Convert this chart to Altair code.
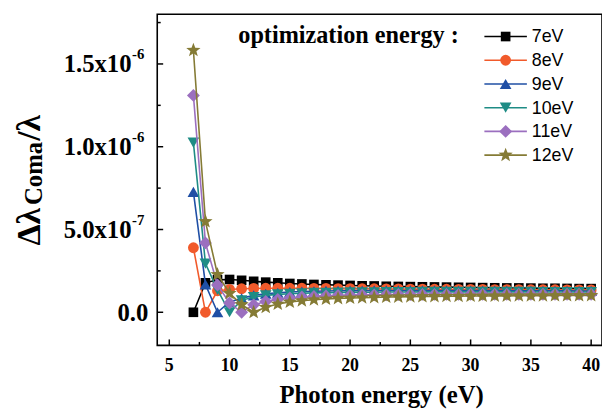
import math
import altair as alt
import pandas as pd

# ---------------- data (values in units of 1e-7) ----------------
energy = list(range(7, 41))
series_names = ["7eV", "8eV", "9eV", "10eV", "11eV", "12eV"]
s7 = [0, 1.78, 1.96, 1.98, 1.93, 1.87, 1.82, 1.78, 1.74, 1.71, 1.68, 1.66, 1.64, 1.62, 1.60, 1.59, 1.57,
      1.56, 1.55, 1.54, 1.53, 1.52, 1.51, 1.50, 1.49, 1.48, 1.47, 1.47, 1.46, 1.45, 1.45, 1.44, 1.43, 1.43]
s8 = [3.90, 0, 1.30, 1.38, 1.42, 1.44, 1.45, 1.45, 1.45, 1.45, 1.44, 1.44, 1.43, 1.43, 1.42, 1.42, 1.41,
      1.41, 1.40, 1.40, 1.39, 1.39, 1.38, 1.38, 1.38, 1.37, 1.37, 1.37, 1.36, 1.36, 1.36, 1.35, 1.35, 1.35]
s9 = [7.27, 1.68, 0, 0.62, 0.85, 1.02, 1.12, 1.18, 1.22, 1.25, 1.27, 1.29, 1.30, 1.31, 1.31, 1.32, 1.32,
      1.32, 1.32, 1.32, 1.32, 1.32, 1.31, 1.31, 1.31, 1.31, 1.31, 1.30, 1.30, 1.30, 1.30, 1.30, 1.29, 1.29]
s10 = [10.25, 2.94, 1.35, 0, 0.72, 0.92, 1.02, 1.08, 1.12, 1.15, 1.17, 1.18, 1.19, 1.20, 1.21, 1.21, 1.22,
       1.22, 1.22, 1.23, 1.23, 1.23, 1.23, 1.23, 1.23, 1.23, 1.23, 1.23, 1.23, 1.22, 1.22, 1.22, 1.22, 1.22]
s11 = [13.10, 4.19, 1.65, 0.56, 0, 0.45, 0.65, 0.78, 0.86, 0.92, 0.96, 0.99, 1.01, 1.03, 1.04, 1.05, 1.06,
       1.07, 1.07, 1.08, 1.08, 1.08, 1.08, 1.09, 1.09, 1.09, 1.09, 1.09, 1.09, 1.09, 1.09, 1.09, 1.09, 1.09]
s12 = [15.83, 5.48, 2.28, 1.15, 0.46, 0, 0.30, 0.50, 0.62, 0.70, 0.76, 0.80, 0.84, 0.86, 0.88, 0.90, 0.92,
       0.93, 0.94, 0.95, 0.96, 0.97, 0.97, 0.98, 0.98, 0.99, 0.99, 1.00, 1.00, 1.00, 1.01, 1.01, 1.01, 1.02]
series_values = [s7, s8, s9, s10, s11, s12]
colors = ["#000000", "#F15A2B", "#1F4FA5", "#1E8C85", "#9B6FBF", "#857B35"]

x_major = [5, 10, 15, 20, 25, 30, 35, 40]
x_minor = [7.5, 12.5, 17.5, 22.5, 27.5, 32.5, 37.5]
y_major = [0, 5e-7, 1e-6, 1.5e-6]
y_minor = [2.5e-7, 7.5e-7, 1.25e-6, 1.75e-6]
y_label_base = ["0.0", "5.0x10", "1.0x10", "1.5x10"]
y_label_exp = ["", "-7", "-6", "-6"]
x_title = "Photon energy (eV)"
legend_title = "optimization energy :"

# ---------------- styles ----------------
W, H = 450, 335
SERIF = "Liberation Serif"
SANS = "Liberation Sans"


def star_path(n=5, inner=0.42):
    pts = []
    for i in range(2 * n):
        a = math.radians(-90 + 180.0 / n * i)
        r = 1.0 if i % 2 == 0 else inner
        pts.append(f"{r * math.cos(a):.3f},{r * math.sin(a):.3f}")
    return "M" + "L".join(pts) + "Z"


diamond = "M0,-1L1,0L0,1L-1,0Z"
shapes = ["square", "circle", "triangle-up", "triangle-down", diamond, star_path()]
sizes = [95, 120, 140, 140, 170, 230]

xscale = alt.Scale(domain=[4, 40.9], nice=False, zero=False)
yscale = alt.Scale(domain=[-2e-7, 1.8e-6], nice=False, zero=False)

layers = []

# series
for name, vals, col, shp, sz in zip(series_names, series_values, colors, shapes, sizes):
    df = pd.DataFrame({"E": energy, "v": [v * 1e-7 for v in vals]})
    enc = dict(x=alt.X("E:Q", scale=xscale, axis=None), y=alt.Y("v:Q", scale=yscale, axis=None))
    layers.append(alt.Chart(df).mark_line(color=col, strokeWidth=1.6).encode(**enc))
    layers.append(alt.Chart(df).mark_point(shape=shp, filled=True, size=sz, color=col,
                                           opacity=1, strokeWidth=0).encode(**enc))

# inside ticks
for vals, length in ((x_major, 6), (x_minor, 3.5)):
    layers.append(alt.Chart(pd.DataFrame({"t": vals})).mark_rule(color="black", strokeWidth=1.5).encode(
        x=alt.X("t:Q", scale=xscale, axis=None), y=alt.value(H), y2=alt.value(H - length)))
for vals, length in ((y_major, 6), (y_minor, 3.5)):
    layers.append(alt.Chart(pd.DataFrame({"t": vals})).mark_rule(color="black", strokeWidth=1.5).encode(
        y=alt.Y("t:Q", scale=yscale, axis=None), x=alt.value(0), x2=alt.value(length)))

# x tick labels
layers.append(alt.Chart(pd.DataFrame({"t": x_major, "lab": [str(v) for v in x_major]})).mark_text(
    font=SERIF, fontWeight="bold", fontSize=18, align="center", baseline="alphabetic", color="black").encode(
    x=alt.X("t:Q", scale=xscale, axis=None), y=alt.value(360.5), text="lab:N"))

# y tick labels
ydf = pd.DataFrame({"t": y_major, "base": y_label_base, "exp": y_label_exp})
zero_df = ydf[ydf["exp"] == ""]
exp_df = ydf[ydf["exp"] != ""]
layers.append(alt.Chart(zero_df).mark_text(font=SERIF, fontWeight="bold", fontSize=25, align="right",
                                           baseline="alphabetic", dy=8.5, color="black").encode(
    y=alt.Y("t:Q", scale=yscale, axis=None), x=alt.value(-9), text="base:N"))
layers.append(alt.Chart(exp_df).mark_text(font=SERIF, fontWeight="bold", fontSize=25, align="right",
                                          baseline="alphabetic", dy=8.5, color="black").encode(
    y=alt.Y("t:Q", scale=yscale, axis=None), x=alt.value(-26), text="base:N"))
layers.append(alt.Chart(exp_df).mark_text(font=SERIF, fontWeight="bold", fontSize=15, align="left",
                                          baseline="alphabetic", dy=-5, color="black").encode(
    y=alt.Y("t:Q", scale=yscale, axis=None), x=alt.value(-25.5), text="exp:N"))

# axis titles
txt = pd.DataFrame({"s": [x_title]})
layers.append(alt.Chart(txt).mark_text(font=SERIF, fontWeight="bold", fontSize=25, align="center",
                                       baseline="alphabetic", color="black").encode(
    x=alt.value(227), y=alt.value(393), text="s:N"))
ytitle_parts = [("Δλ", 34, -119, 234), ("Coma", 25, -116.5, 193), ("/λ", 34, -119, 128)]
for s, fs, xx, yy in ytitle_parts:
    layers.append(alt.Chart(pd.DataFrame({"s": [s]})).mark_text(
        font=SERIF, fontWeight="bold", fontSize=fs, angle=270, align="left", baseline="alphabetic",
        color="black").encode(x=alt.value(xx), y=alt.value(yy), text="s:N"))

# legend
layers.append(alt.Chart(pd.DataFrame({"s": [legend_title]})).mark_text(
    font=SERIF, fontWeight="bold", fontSize=24.5, align="left", baseline="alphabetic", color="black").encode(
    x=alt.value(82), y=alt.value(29), text="s:N"))
for i, (name, col, shp, sz) in enumerate(zip(series_names, colors, shapes, sizes)):
    ly = 22.5 + 24 * i
    one = pd.DataFrame({"s": [name]})
    layers.append(alt.Chart(one).mark_rule(color=col, strokeWidth=1.6).encode(
        x=alt.value(331), x2=alt.value(374), y=alt.value(ly)))
    layers.append(alt.Chart(one).mark_point(shape=shp, filled=True, size=sz, color=col, opacity=1,
                                            strokeWidth=0).encode(x=alt.value(352.5), y=alt.value(ly)))
    layers.append(alt.Chart(one).mark_text(font=SANS, fontSize=18, align="left", baseline="middle",
                                           color="black").encode(
        x=alt.value(379), y=alt.value(ly + 1), text="s:N"))

chart = alt.layer(*layers).properties(
    width=W, height=H,
    padding={"left": 151, "top": 4, "right": 0, "bottom": 62},
    autosize=alt.AutoSizeParams(type="none"),
    background="white",
).configure_view(stroke="black", strokeWidth=1.6)

chart.save("out.html", embed_options={"renderer": "svg", "actions": False})
